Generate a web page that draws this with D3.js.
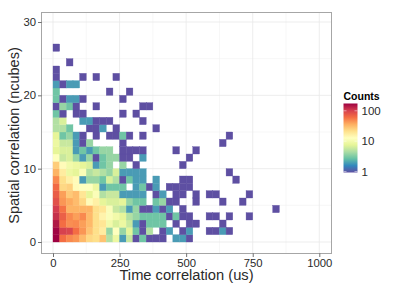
<!DOCTYPE html>
<html><head><meta charset="utf-8">
<script src="https://cdn.jsdelivr.net/npm/d3@7/dist/d3.min.js"></script>
<style>html,body{margin:0;padding:0;background:#fff}svg{display:block}text{font-family:"Liberation Sans",Arial,sans-serif}</style>
</head><body><svg id="c" width="405" height="289"></svg>
<script>
// counts per 25us time bin (column index), one array per spatial bin; 0 = empty
const row0=[174,62,50,45,33,24,22,30,5,9,2,6,1,3,1,1,1,0,2,2,1];
const row1=[170,100,95,62,45,30,22,18,4,13,4,8,3,1,5,0,1,2,0,1,2,0,0,1,1,2,1];
const row2=[150,62,48,50,42,33,22,20,10,7,9,6,2,1,3,3,3,0,1,0,1,1,0,0,0,1];
const row3=[120,72,50,42,50,33,22,16,12,10,8,5,4,3,3,3,3,1,3,1,1,0,0,1,1,0,1,0,0,1];
const row4=[105,60,35,35,35,35,22,20,12,6,5,2,4,1,1,2,1,2,0,1,0,0,0,0,0,0,0,0,0,0,0,0,0,1];
const row5=[85,45,38,32,24,14,17,8,7,7,8,4,3,3,0,3,4,1,1,0,0,1,0,0,0,1,0,0,1];
const row6=[75,42,28,32,20,8,12,5,6,6,2,2,2,2,0,1,2,0,1,1,0,1,0,1,1,0,0,0,0,1];
const row7=[65,24,26,14,13,13,9,2,3,3,3,0,2,3,1,2,0,1,1,1,1];
const row8=[50,22,17,14,2,4,4,3,7,5,1,3,2,2,0,2,0,0,0,1,1,0,0,0,0,0,0,1];
const row9=[35,18,9,8,12,5,6,5,4,7,2,2,2,2,0,0,0,0,0,0,0,0,0,0,0,0,1];
const row10=[27,14,10,9,8,7,2,3,4,0,4,0,1,0,0,0,0,0,0,1];
const row11=[13,6,7,4,2,4,1,3,4,4,1,1,0,2,0,0,0,0,0,0,1];
const row12=[8,7,7,2,3,2,3,4,4,0,1,1,1,1,0,0,0,0,1,0,0,1];
const row13=[9,6,6,2,1,4,0,0,0,0,1,0,0,0,0,0,0,0,0,0,0,0,0,0,0,1];
const row14=[8,3,4,2,1,0,1,0,1,1,3,1,0,1,0,0,0,0,0,0,0,0,0,0,0,0,1];
const row15=[5,5,3,0,0,1,1,2,0,1,0,0,0,0,0,1];
const row16=[5,7,0,0,2,2,1,1,1,0,0,0,0,1];
const row17=[3,1,0,1,1,0,0,0,0,0,1,0,1];
const row18=[1,4,3,1,0,0,1,0,0,0,0,0,0,1,1];
const row19=[3,1,2,2,1,0,0,0,0,0,1];
const row20=[3,0,0,0,0,0,0,0,1,0,0,1];
const row21=[2,1,2,2];
const row22=[1,0,0,0,1,0,1,0,0,1];
const row23=[1];
const row24=[0,0,1];
const row25=[];
const row26=[1];
const rows=[row0,row1,row2,row3,row4,row5,row6,row7,row8,row9,row10,row11,row12,row13,row14,row15,row16,row17,row18,row19,row20,row21,row22,row23,row24,row25,row26];
const binWidth=25, binHeight=1, maxCount=174;
const xTicks=[0,250,500,750,1000], xMinor=[125,375,625,875];
const yTicks=[0,10,20,30], yMinor=[5,15,25];
const legendTicks=[1,10,100];
const spectral=["#5E4FA2","#3288BD","#66C2A5","#ABDDA4","#E6F598","#FFFFBF","#FEE08B","#FDAE61","#F46D43","#D53E4F","#9E0142"];

const svg=d3.select("#c");
const P={l:41.5,r:331.5,t:12.5,b:253.5};
const x=d3.scaleLinear().domain([0,1000]).range([53,319.3]);
const y=d3.scaleLinear().domain([0,30]).range([242,22]);
const fillT=d3.scaleLog().domain([1,maxCount]).range([0,1]);
const ramp=d3.scaleLinear().domain(spectral.map((d,i)=>i/10)).range(spectral).interpolate(d3.interpolateLab);
const fill=c=>ramp(fillT(c));
const ink="#2a2a2a";

// grid
const g=svg.append("g");
const hl=(v,c,w)=>g.append("line").attr("x1",P.l).attr("x2",P.r).attr("y1",y(v)).attr("y2",y(v)).attr("stroke",c).attr("stroke-width",w);
const vl=(v,c,w)=>g.append("line").attr("y1",P.t).attr("y2",P.b).attr("x1",x(v)).attr("x2",x(v)).attr("stroke",c).attr("stroke-width",w);
yMinor.forEach(v=>hl(v,"#f2f2f2",.6)); xMinor.forEach(v=>vl(v,"#f2f2f2",.6));
yTicks.forEach(v=>hl(v,"#e8e8e8",.8)); xTicks.forEach(v=>vl(v,"#e8e8e8",.8));

// tiles
const cells=[];
rows.forEach((r,j)=>r.forEach((c,i)=>{if(c>0)cells.push({i,j,c});}));
svg.append("g").selectAll("rect").data(cells).join("rect")
 .attr("x",d=>x(d.i*binWidth)).attr("width",d=>x(binWidth)-x(0))
 .attr("y",d=>y((d.j+1)*binHeight)).attr("height",d=>y(0)-y(binHeight))
 .attr("fill",d=>fill(d.c)).attr("stroke",d=>fill(d.c)).attr("stroke-width",.35);

// border
svg.append("rect").attr("x",P.l).attr("y",P.t).attr("width",P.r-P.l).attr("height",P.b-P.t).attr("fill","none").attr("stroke","#a6a6a6").attr("stroke-width",1);

// axes
const ax=svg.append("g").attr("transform",`translate(0,${P.b})`).call(d3.axisBottom(x).tickValues(xTicks).tickFormat(d3.format("d")).tickSize(3.5).tickPadding(1.5));
const ay=svg.append("g").attr("transform",`translate(${P.l},0)`).call(d3.axisLeft(y).tickValues(yTicks).tickFormat(d3.format("d")).tickSize(3.5).tickPadding(2));
[ax,ay].forEach(a=>{a.select(".domain").remove();a.selectAll("line").attr("stroke","#333").attr("stroke-width",.7);a.selectAll("text").attr("fill",ink).style("font-size","11.3px");});

svg.append("text").attr("x",186.5).attr("y",280).attr("text-anchor","middle").attr("fill",ink).style("font-size","14.7px").text("Time correlation (us)");
svg.append("text").attr("transform","translate(19,135.5) rotate(-90)").attr("text-anchor","middle").attr("fill",ink).style("font-size","14.5px").text("Spatial correlation (ncubes)");

// legend
const L={x:343.5,w:14,top:103.5,bot:172.5};
const defs=svg.append("defs");
const grad=defs.append("linearGradient").attr("id","lg").attr("x1",0).attr("x2",0).attr("y1",1).attr("y2",0);
spectral.forEach((c,i)=>grad.append("stop").attr("offset",i/10).attr("stop-color",c));
svg.append("rect").attr("x",L.x).attr("y",L.top).attr("width",L.w).attr("height",L.bot-L.top).attr("fill","url(#lg)");
const ly=d3.scaleLog().domain([1,maxCount]).range([L.bot-1,L.top]);
const lg=svg.append("g");
legendTicks.forEach(v=>{
 lg.append("line").attr("x1",L.x).attr("x2",L.x+3).attr("y1",ly(v)).attr("y2",ly(v)).attr("stroke","#fff").attr("stroke-width",.5);
 lg.append("line").attr("x1",L.x+L.w-3).attr("x2",L.x+L.w).attr("y1",ly(v)).attr("y2",ly(v)).attr("stroke","#fff").attr("stroke-width",.5);
 lg.append("text").attr("x",L.x+L.w+4).attr("y",ly(v)+4).attr("fill",ink).style("font-size","11.5px").text(v);
});
svg.append("text").attr("x",343.5).attr("y",100).attr("fill","#000").style("font-size","10.5px").style("font-weight","bold").text("Counts");
</script></body></html>
